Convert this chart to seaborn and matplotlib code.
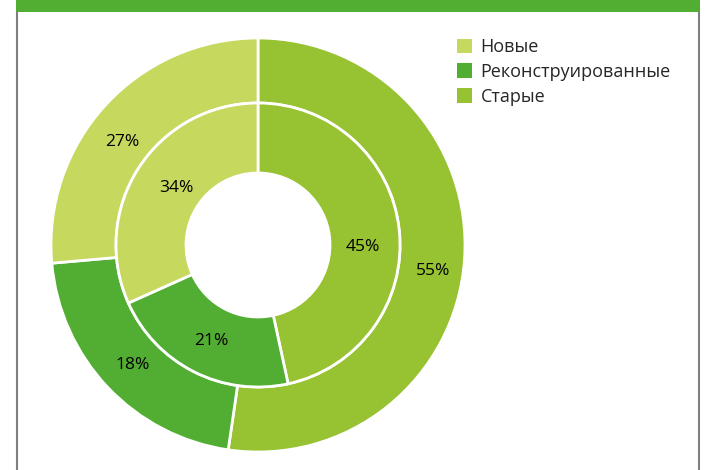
import matplotlib
matplotlib.use("Agg")
import numpy as np
import matplotlib.pyplot as plt
from matplotlib.patches import Rectangle
from matplotlib.lines import Line2D
import seaborn as sns

sns.set_theme(style="white")
plt.rcParams['font.family'] = ['Open Sans', 'DejaVu Sans']

# Data (clockwise from top)
categories = ["Старые", "Реконструированные", "Новые"]
outer_values = [52.3, 21.3, 26.4]
outer_labels = ["55%", "18%", "27%"]
inner_values = [46.6, 21.7, 31.7]
inner_labels = ["45%", "21%", "34%"]
legend_order = ["Новые", "Реконструированные", "Старые"]
colors = {"Старые": "#97C232", "Реконструированные": "#52AE32", "Новые": "#C6D85E"}

# layout: label placement (radius as fraction of outer radius, angular nudge in degrees)
outer_label_r = [0.855, 0.837, 0.824]
outer_nudge = [-4.4, 0.4, 5.4]
inner_label_r = [0.507, 0.516, 0.483]
inner_nudge = [-7.2, 0.7, -1.9]

W, H = 706, 470
fig = plt.figure(figsize=(W / 100, H / 100), dpi=100)
fig.patch.set_facecolor("white")

# frame: green top bar and grey side borders
fig.patches.append(Rectangle((16 / W, 1 - 12 / H), (700 - 16) / W, 12 / H,
                             transform=fig.transFigure, facecolor="#52AE32",
                             edgecolor="none"))
fig.lines.append(Line2D([16.5 / W, 16.5 / W], [0, 1 - 12 / H], transform=fig.transFigure,
                        color="#7F7F7F", lw=1.5))
fig.lines.append(Line2D([698.5 / W, 698.5 / W], [0, 1 - 12 / H], transform=fig.transFigure,
                        color="#7F7F7F", lw=1.5))

cx, cy, R = 258, 245, 207
ax = fig.add_axes([(cx - R) / W, (H - cy - R) / H, 2 * R / W, 2 * R / H])

pal = [colors[c] for c in categories]
outer_w = (R - 142) / R
inner_r = 142 / R
inner_w = (142 - 72) / R

wedges_o, _ = ax.pie(outer_values, radius=1.0, colors=pal, startangle=90, counterclock=False,
                     wedgeprops=dict(width=outer_w, edgecolor="white", linewidth=2))
wedges_i, _ = ax.pie(inner_values, radius=inner_r, colors=pal, startangle=90, counterclock=False,
                     wedgeprops=dict(width=inner_w, edgecolor="white", linewidth=2))


def put_labels(wedges, labels, radii, nudges):
    for w, lab, r, d in zip(wedges, labels, radii, nudges):
        ang = np.deg2rad((w.theta1 + w.theta2) / 2 + d)
        ax.text(r * np.cos(ang), r * np.sin(ang), lab, ha="center", va="center",
                fontsize=12.5, color="black")


put_labels(wedges_o, outer_labels, outer_label_r, outer_nudge)
put_labels(wedges_i, inner_labels, inner_label_r, inner_nudge)

ax.set_xlim(-1, 1)
ax.set_ylim(-1, 1)
ax.set_aspect("equal")
ax.axis("off")

handles = [Rectangle((0, 0), 1, 1, facecolor=colors[c], edgecolor="none") for c in legend_order]
fig.legend(handles, legend_order, loc="upper left", bbox_to_anchor=(457 / W, 1 - 38 / H),
           frameon=False, fontsize=13, handlelength=0.85, handleheight=0.85,
           handletextpad=0.45, labelspacing=0.38, borderpad=0, borderaxespad=0)

fig.savefig("out.png", dpi=100)
